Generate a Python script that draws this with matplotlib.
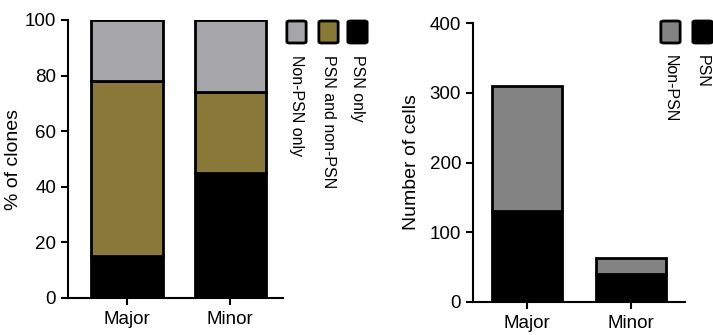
import matplotlib
matplotlib.use("Agg")
from matplotlib import pyplot as plt
from matplotlib.patches import FancyBboxPatch
import numpy as np

plt.rcParams['font.family'] = ['Liberation Sans', 'DejaVu Sans']
plt.rcParams['font.size'] = 11

groups = ['Major', 'Minor']

# % of clones, stacked bottom to top
psn_only = [15, 45]
psn_and_non = [63, 29]
non_psn_only = [22, 26]

# number of cells, stacked bottom to top
cells_psn = [130, 40]
cells_non_psn = [180, 23]

LIGHT_GREY = '#a6a6aa'
OLIVE = '#8a7a3a'
GREY = '#838383'

fig = plt.figure(figsize=(7.13, 3.35), dpi=100)
W, H = 713, 335


def style_axes(ax):
    for side in ['top', 'right']:
        ax.spines[side].set_visible(False)
    for side in ['left', 'bottom']:
        ax.spines[side].set_linewidth(1.5)
    ax.tick_params(axis='both', width=1.5, length=5, direction='out', labelsize=13.5)
    ax.tick_params(axis='x', pad=4)


def legend_box(x, y, color):
    # x, y in pixels from top-left
    p = FancyBboxPatch((x / W, 1 - (y + 20) / H), 15 / W, 20 / H,
                       boxstyle="round,pad=0.003,rounding_size=0.004",
                       transform=fig.transFigure, facecolor=color,
                       edgecolor='black', linewidth=2)
    fig.add_artist(p)


x = np.arange(len(groups))

# left panel
ax1 = fig.add_axes([68 / W, 1 - 298 / H, 215 / W, 278 / H])
kw = dict(width=0.69, edgecolor='black', linewidth=2)
ax1.bar(x, psn_only, color='black', **kw)
ax1.bar(x, psn_and_non, bottom=psn_only, color=OLIVE, **kw)
ax1.bar(x, non_psn_only, bottom=np.add(psn_only, psn_and_non), color=LIGHT_GREY, **kw)
ax1.set_ylim(0, 100)
ax1.set_xlim(-0.57, 1.51)
ax1.set_yticks([0, 20, 40, 60, 80, 100])
ax1.set_xticks(x)
ax1.set_xticklabels(groups)
ax1.set_ylabel('% of clones', fontsize=14, labelpad=2)
style_axes(ax1)

# right panel
ax2 = fig.add_axes([473 / W, 1 - 302 / H, 212 / W, 279 / H])
kw2 = dict(width=0.67, edgecolor='black', linewidth=2)
ax2.bar(x, cells_psn, color='black', **kw2)
ax2.bar(x, cells_non_psn, bottom=cells_psn, color=GREY, **kw2)
ax2.set_ylim(0, 400)
ax2.set_xlim(-0.52, 1.52)
ax2.set_yticks([0, 100, 200, 300, 400])
ax2.set_xticks(x)
ax2.set_xticklabels(groups)
ax2.set_ylabel('Number of cells', fontsize=14, labelpad=7)
style_axes(ax2)

# legends drawn as boxes with rotated labels underneath
left_items = [('Non-PSN only', LIGHT_GREY, 289), ('PSN and non-PSN', OLIVE, 321),
              ('PSN only', 'black', 350)]
for label, color, px in left_items:
    legend_box(px, 22, color)
    fig.text((px + 7.5) / W, 1 - 55 / H, label, rotation=-90, ha='center', va='top',
             fontsize=11.5)

right_items = [('Non-PSN', GREY, 663), ('PSN', 'black', 695)]
for label, color, px in right_items:
    legend_box(px, 22, color)
    fig.text((px + 7.5) / W, 1 - 55 / H, label, rotation=-90, ha='center', va='top',
             fontsize=11.5)

fig.savefig('out.png', dpi=100)
